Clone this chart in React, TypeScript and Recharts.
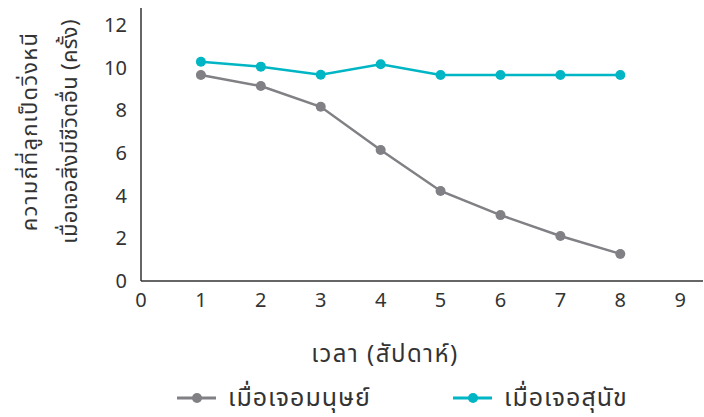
import { LineChart, Line, XAxis, YAxis, Legend } from 'recharts';

const weeks = [1, 2, 3, 4, 5, 6, 7, 8];
const humanValues = [9.66, 9.14, 8.17, 6.14, 4.22, 3.09, 2.11, 1.27];
const dogValues = [10.28, 10.05, 9.67, 10.16, 9.66, 9.66, 9.66, 9.66];
const xTicks = [0, 1, 2, 3, 4, 5, 6, 7, 8, 9];
const yTicks = [0, 2, 4, 6, 8, 10, 12];

const humanName = 'เมื่อเจอมนุษย์';
const dogName = 'เมื่อเจอสุนัข';
const xLabel = 'เวลา (สัปดาห์)';
const yLabelLines = ['ความถี่ที่ลูกเป็ดวิ่งหนี', 'เมื่อเจอสิ่งมีชีวิตอื่น (ครั้ง)'];

const GRAY = '#808085';
const TEAL = '#00b5c4';
const FONT = '"Noto Sans Thai", "Noto Sans", sans-serif';

const data = weeks.map((w, i) => ({ week: w, human: humanValues[i], dog: dogValues[i] }));

function YLabel(props: any) {
  const { viewBox } = props;
  const cy = viewBox.y + viewBox.height / 2 - 13;
  return (
    <g>
      {yLabelLines.map((line, i) => {
        const x = 30 + i * 40;
        return (
          <text
            key={i}
            x={x}
            y={cy}
            transform={`rotate(-90, ${x}, ${cy})`}
            textAnchor="middle"
            dominantBaseline="central"
            fontSize={22}
            letterSpacing={i === 0 ? 1.2 : 0.3}
            fill="#333"
            fontFamily={FONT}
          >
            {line}
          </text>
        );
      })}
    </g>
  );
}

function XLabel(props: any) {
  const { viewBox } = props;
  return (
    <text
      x={viewBox.x + viewBox.width / 2 - 37}
      y={viewBox.y + 74}
      textAnchor="middle"
      dominantBaseline="central"
      fontSize={24}
      letterSpacing={1.5}
      fill="#333"
      fontFamily={FONT}
    >
      {xLabel}
    </text>
  );
}

function LegendContent() {
  const items = [
    { name: humanName, color: GRAY, left: 177 },
    { name: dogName, color: TEAL, left: 453 },
  ];
  return (
    <div style={{ position: 'relative', height: 36, fontFamily: FONT }}>
      {items.map((it) => (
        <div
          key={it.name}
          style={{ position: 'absolute', left: it.left, top: 2, height: 30, display: 'flex', alignItems: 'center' }}
        >
          <svg width={39} height={12} style={{ marginRight: 12 }}>
            <line x1={0} y1={6} x2={39} y2={6} stroke={it.color} strokeWidth={3} />
            <circle cx={20} cy={6} r={5} fill={it.color} />
          </svg>
          <span
            style={{ fontSize: 25, lineHeight: '30px', color: '#333', letterSpacing: 1, whiteSpace: 'nowrap' }}
          >
            {it.name}
          </span>
        </div>
      ))}
    </div>
  );
}

export default function App() {
  return (
    <div style={{ position: 'absolute', left: 0, top: 0, background: '#fff' }}>
      <LineChart width={704} height={417} data={data} margin={{ top: 8, right: 1, bottom: 0, left: 0 }}>
        <XAxis
          dataKey="week"
          type="number"
          domain={[0, 9.38]}
          ticks={xTicks}
          allowDataOverflow
          tickLine={false}
          tickSize={0}
          tickMargin={12}
          height={100}
          stroke="#333"
          strokeWidth={1.5}
          tick={{ fontSize: 20, fill: '#333', fontFamily: FONT }}
          label={<XLabel />}
        />
        <YAxis
          type="number"
          domain={[0, 12.8]}
          ticks={yTicks}
          allowDataOverflow
          tickLine={false}
          tickSize={0}
          tickMargin={14}
          width={141}
          stroke="#333"
          strokeWidth={1.5}
          tick={{ fontSize: 20, fill: '#333', fontFamily: FONT }}
          label={<YLabel />}
        />
        <Legend verticalAlign="bottom" height={36} content={<LegendContent />} />
        <Line
          dataKey="human"
          name={humanName}
          stroke={GRAY}
          strokeWidth={2.5}
          dot={{ r: 5, fill: GRAY, stroke: GRAY, strokeWidth: 0 }}
          isAnimationActive={false}
        />
        <Line
          dataKey="dog"
          name={dogName}
          stroke={TEAL}
          strokeWidth={2.5}
          dot={{ r: 5, fill: TEAL, stroke: TEAL, strokeWidth: 0 }}
          isAnimationActive={false}
        />
      </LineChart>
    </div>
  );
}
